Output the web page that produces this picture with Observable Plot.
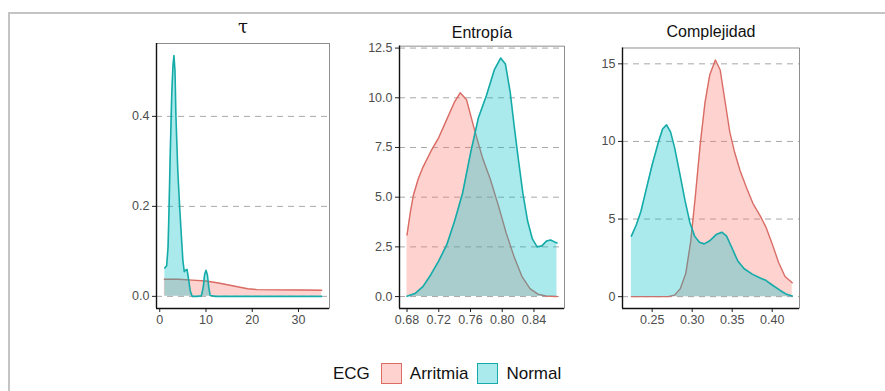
<!DOCTYPE html>
<html>
<head>
<meta charset="utf-8">
<script src="https://cdn.jsdelivr.net/npm/d3@7"></script>
<script src="https://cdn.jsdelivr.net/npm/@observablehq/plot@0.6"></script>
<style>
  html, body { margin: 0; padding: 0; background: #fff; }
  #fig { position: relative; width: 885px; height: 391px; overflow: hidden; font-family: "Liberation Sans", Arial, Helvetica, sans-serif; }
  #border { position: absolute; left: 8px; top: 12px; right: -4px; bottom: -4px; border-top: 2px solid #c4c4c4; border-left: 2px solid #c4c4c4; }
  .layer { position: absolute; left: 0; top: 0; }
  #legend { position: absolute; left: 333px; top: 363px; display: flex; align-items: center; font-size: 17px; color: #111; }
  #legend .key { width: 21px; height: 21px; box-sizing: border-box; border: 1.5px solid; margin: 0 8px 0 0; }
  #legend .lab { margin-right: 9px; }
</style>
</head>
<body>
<div id="fig"><div id="border"></div></div>
<script>
// ---- data ----
const groups = ["Arritmia", "Normal"];
const legendTitle = "ECG";
const titles = ["τ", "Entropía", "Complejidad"];

// Panel 1: τ
const tauArrX = [1, 2, 4, 7, 10, 13, 16, 19, 21, 25, 30, 35];
const tauArrY = [0.038, 0.038, 0.038, 0.036, 0.034, 0.029, 0.023, 0.017, 0.015, 0.0145, 0.014, 0.0135];
const tauNorX = [1.1, 1.5, 1.8, 2.0, 2.3, 2.6, 2.85, 3.07, 3.3, 3.5, 3.9, 4.3, 4.7, 5.0, 5.3, 5.6, 5.9, 6.2, 6.6, 7.0, 8.0, 9.0, 9.4, 9.7, 10.0, 10.3, 10.6, 10.9, 12, 20, 35];
const tauNorY = [0.063, 0.068, 0.11, 0.19, 0.33, 0.45, 0.51, 0.535, 0.50, 0.40, 0.28, 0.20, 0.13, 0.08, 0.055, 0.058, 0.06, 0.04, 0.012, 0.0, 0.0, 0.001, 0.02, 0.048, 0.058, 0.048, 0.02, 0.002, 0, 0, 0];
const tauXTicks = [0, 10, 20, 30];
const tauYTicks = [0.0, 0.2, 0.4];

// Panel 2: Entropía
const entArrX = [0.680, 0.684, 0.688, 0.694, 0.700, 0.710, 0.720, 0.730, 0.740, 0.747, 0.755, 0.765, 0.775, 0.785, 0.795, 0.805, 0.815, 0.825, 0.835, 0.845, 0.855, 0.869];
const entArrY = [3.1, 4.2, 5.1, 5.9, 6.5, 7.3, 8.0, 8.9, 9.8, 10.25, 9.9, 8.4, 7.0, 5.9, 4.6, 3.2, 2.0, 1.0, 0.4, 0.12, 0.03, 0.0];
const entNorX = [0.680, 0.690, 0.700, 0.710, 0.720, 0.730, 0.740, 0.750, 0.760, 0.770, 0.780, 0.790, 0.798, 0.804, 0.810, 0.815, 0.820, 0.826, 0.832, 0.838, 0.844, 0.850, 0.856, 0.861, 0.866, 0.869];
const entNorY = [0.02, 0.15, 0.5, 1.1, 1.8, 2.6, 3.8, 5.2, 7.2, 9.0, 10.1, 11.4, 12.0, 11.7, 10.3, 8.6, 7.0, 5.2, 3.8, 2.9, 2.5, 2.55, 2.8, 2.85, 2.75, 2.7];
const entXTicks = [0.68, 0.72, 0.76, 0.80, 0.84];
const entYTicks = [0.0, 2.5, 5.0, 7.5, 10.0, 12.5];

// Panel 3: Complejidad
const comArrX = [0.224, 0.250, 0.270, 0.278, 0.285, 0.292, 0.298, 0.304, 0.310, 0.316, 0.322, 0.329, 0.335, 0.341, 0.347, 0.353, 0.360, 0.368, 0.376, 0.385, 0.392, 0.400, 0.408, 0.416, 0.425];
const comArrY = [0, 0, 0, 0.1, 0.5, 1.5, 3.5, 6.5, 9.8, 12.5, 14.3, 15.25, 14.6, 12.6, 10.6, 9.3, 8.1, 7.0, 6.0, 5.2, 4.5, 3.4, 2.2, 1.3, 0.9];
const comNorX = [0.224, 0.230, 0.236, 0.242, 0.250, 0.258, 0.263, 0.268, 0.273, 0.278, 0.285, 0.291, 0.297, 0.303, 0.309, 0.315, 0.322, 0.330, 0.337, 0.343, 0.350, 0.357, 0.365, 0.375, 0.385, 0.392, 0.400, 0.410, 0.418, 0.425];
const comNorY = [3.9, 4.6, 5.5, 6.8, 8.5, 10.0, 10.8, 11.07, 10.6, 9.6, 7.8, 6.2, 4.8, 3.9, 3.5, 3.4, 3.6, 4.0, 4.15, 3.9, 3.1, 2.3, 1.8, 1.45, 1.2, 1.05, 0.75, 0.4, 0.15, 0.04];
const comXTicks = [0.25, 0.30, 0.35, 0.40];
const comYTicks = [0, 5, 10, 15];

// ---- styles ----
const arrFill = "#F8766D", norFill = "#00BFC4";
const arrLine = "#D96C65", norLine = "#14ABA8";
const W = 885, H = 391;
const fig = document.getElementById("fig");

function rows(xs, ys) { return d3.zip(xs, ys).map(([x, y]) => ({x, y})); }

function panel(o) {
  const arr = rows(o.arrX, o.arrY), nor = rows(o.norX, o.norY);
  const chart = Plot.plot({
    width: W, height: H,
    marginLeft: o.L, marginRight: W - o.R, marginTop: o.T, marginBottom: H - o.B,
    style: {background: "transparent", fontFamily: "'Liberation Sans', Arial, Helvetica, sans-serif", fontSize: "12.5px", color: "#4d4d4d", overflow: "visible"},
    x: {domain: o.xDomain},
    y: {domain: o.yDomain},
    marks: [
      Plot.ruleY(o.yTicks, {stroke: "#a8a8a8", strokeWidth: 1, strokeDasharray: "6,5"}),
      Plot.areaY(arr, {x: "x", y: "y", fill: arrFill, fillOpacity: 0.33}),
      Plot.line(arr, {x: "x", y: "y", stroke: arrLine, strokeWidth: 1.4}),
      Plot.areaY(nor, {x: "x", y: "y", fill: norFill, fillOpacity: 0.33}),
      Plot.line(nor, {x: "x", y: "y", stroke: norLine, strokeWidth: 1.6}),
      Plot.frame({stroke: "#444", strokeWidth: 0.6}),
      Plot.axisX({ticks: o.xTicks, tickFormat: o.xFmt, tickSize: 4, tickPadding: 3, label: null, stroke: "#222", fill: "#4d4d4d"}),
      Plot.axisY({ticks: o.yTicks, tickFormat: o.yFmt, tickSize: 4, tickPadding: 3, label: null, stroke: "#222", fill: "#4d4d4d"}),
      Plot.ruleX([o.xDomain[0]], {stroke: "#111", strokeWidth: 1.4}),
      Plot.ruleY([o.yDomain[0]], {stroke: "#111", strokeWidth: 1.4}),
      Plot.text([o.title], {frameAnchor: "top", lineAnchor: "middle", dy: o.titleY - o.T, fontSize: o.titleSize || 16,
        fontFamily: o.titleFont || "'Liberation Sans', Arial, sans-serif", fill: "#111", text: d => d})
    ]
  });
  chart.classList.add("layer");
  fig.appendChild(chart);
}

panel({L: 156, R: 329, T: 43, B: 308, xDomain: [-0.7, 36.7], yDomain: [-0.027, 0.562],
  xTicks: tauXTicks, yTicks: tauYTicks, xFmt: d3.format("d"), yFmt: d3.format(".1f"),
  arrX: tauArrX, arrY: tauArrY, norX: tauNorX, norY: tauNorY, title: titles[0], titleY: 27, titleSize: 18,
  titleFont: "'DejaVu Serif', 'Liberation Serif', serif"});
panel({L: 399, R: 564, T: 45.6, B: 308, xDomain: [0.6705, 0.8785], yDomain: [-0.6, 12.6],
  xTicks: entXTicks, yTicks: entYTicks, xFmt: d3.format(".2f"), yFmt: d3.format(".1f"),
  arrX: entArrX, arrY: entArrY, norX: entNorX, norY: entNorY, title: titles[1], titleY: 32});
panel({L: 622, R: 799, T: 47.5, B: 308, xDomain: [0.2129, 0.4341], yDomain: [-0.763, 16.02],
  xTicks: comXTicks, yTicks: comYTicks, xFmt: d3.format(".2f"), yFmt: d3.format("d"),
  arrX: comArrX, arrY: comArrY, norX: comNorX, norY: comNorY, title: titles[2], titleY: 31});

// ---- legend ----
const leg = document.createElement("div");
leg.id = "legend";
const t = document.createElement("span");
t.textContent = legendTitle; t.style.marginRight = "11px";
leg.appendChild(t);
const fills = [arrFill, norFill], lines = [arrLine, norLine];
groups.forEach((g, i) => {
  const k = document.createElement("span");
  k.className = "key";
  k.style.background = d3.color(fills[i]).copy({opacity: 0.33}).formatRgb();
  k.style.borderColor = lines[i];
  leg.appendChild(k);
  const l = document.createElement("span");
  l.className = "lab"; l.textContent = g;
  leg.appendChild(l);
});
fig.appendChild(leg);
</script>
</body>
</html>
